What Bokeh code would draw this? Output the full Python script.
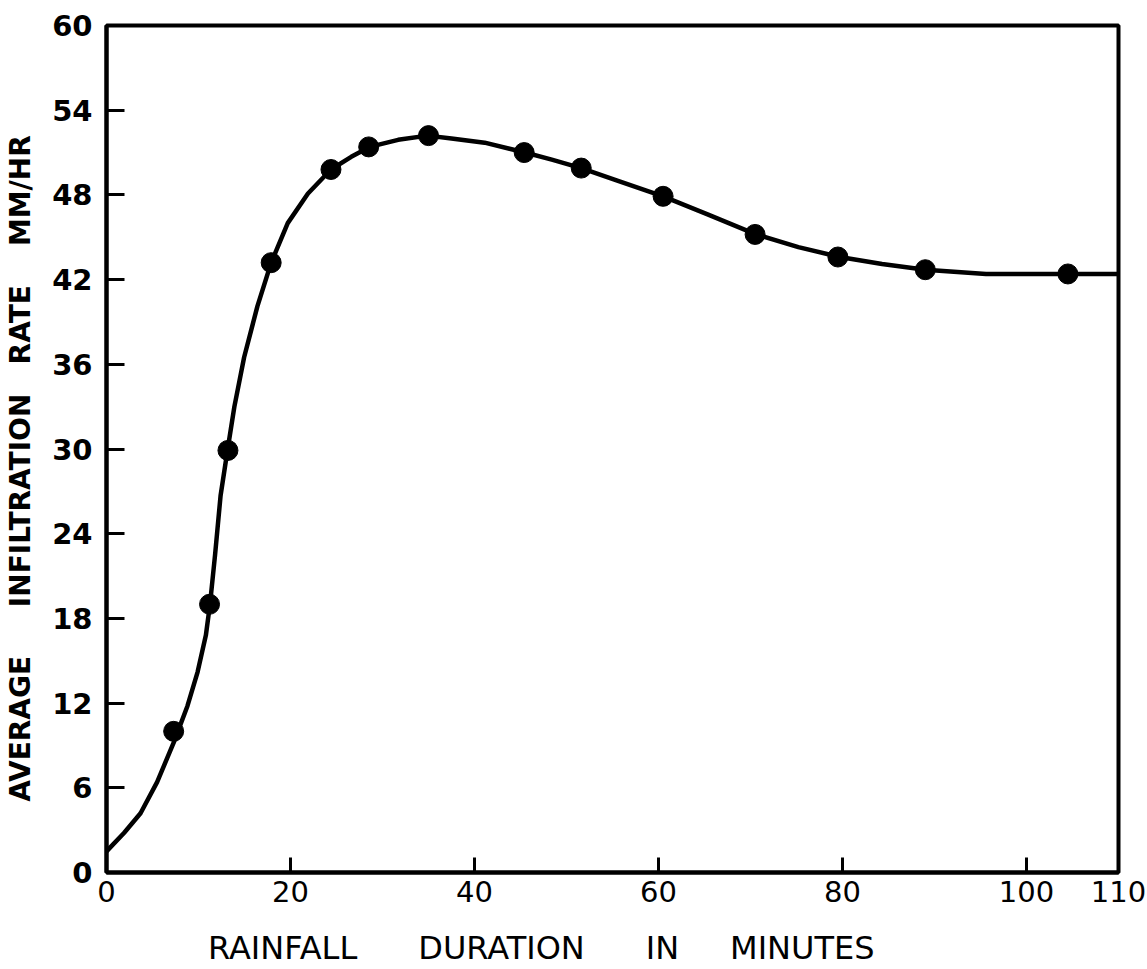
from bokeh.plotting import figure
from bokeh.models import FixedTicker, Range1d
from bokeh.embed import file_html
from bokeh.resources import INLINE

# Observed data points (rainfall duration in minutes, average infiltration rate mm/hr)
duration = [7.3, 11.2, 13.2, 17.9, 24.4, 28.5, 35.0, 45.4, 51.6, 60.5, 70.5, 79.5, 89.0, 104.5]
rate = [10.0, 19.0, 29.9, 43.2, 49.8, 51.4, 52.2, 51.0, 49.9, 47.9, 45.2, 43.6, 42.7, 42.4]

# Hand-drawn fitted curve
curve_duration = [0.0, 1.9, 3.7, 5.5, 7.3, 8.8, 9.9, 10.8, 11.25, 11.8, 12.4, 13.15, 13.9,
                  14.96, 16.4, 17.9, 19.7, 21.9, 24.4, 26.6, 28.6, 31.7, 34.9, 37.5, 41.1,
                  45.5, 48.4, 51.6, 55.6, 60.5, 65.4, 70.6, 75.2, 79.7, 84.3, 89.0, 95.6,
                  104.5, 110.0]
curve_rate = [1.5, 2.8, 4.2, 6.4, 9.2, 11.8, 14.2, 16.8, 19.0, 22.5, 26.7, 29.9, 33.0,
              36.5, 40.1, 43.2, 46.0, 48.1, 49.8, 50.7, 51.4, 51.9, 52.2, 52.0, 51.7,
              51.0, 50.5, 49.9, 49.0, 47.9, 46.6, 45.2, 44.3, 43.6, 43.1, 42.7, 42.4,
              42.4, 42.4]

x_ticks = [0, 20, 40, 60, 80, 100, 110]
y_ticks = [0, 6, 12, 18, 24, 30, 36, 42, 48, 54, 60]

NB = "\u00a0"
x_label = ("RAINFALL" + NB * 6 + "DURATION" + NB * 6 + "IN" + NB * 5 + "MINUTES" + NB * 14)
y_label = ("AVERAGE" + NB * 5 + "INFILTRATION" + NB * 3 + "RATE" + NB * 4 + "MM/HR" + NB * 4)

p = figure(width=1147, height=969, output_backend="svg", toolbar_location=None,
           x_range=Range1d(0, 110), y_range=Range1d(0, 60),
           min_border_left=106, min_border_right=29, min_border_top=25, min_border_bottom=96)

p.background_fill_color = "white"
p.border_fill_color = "white"
p.outline_line_color = "black"
p.outline_line_width = 4
p.xgrid.visible = False
p.ygrid.visible = False

p.xaxis.ticker = FixedTicker(ticks=x_ticks)
p.yaxis.ticker = FixedTicker(ticks=y_ticks)

for ax in (p.xaxis, p.yaxis):
    ax.axis_line_color = "black"
    ax.axis_line_width = 4
    ax.major_tick_line_color = "black"
    ax.major_tick_line_width = 3
    ax.major_tick_out = 0
    ax.minor_tick_line_color = None
    ax.major_label_text_color = "black"
    ax.axis_label_text_color = "black"
    ax.major_label_text_font = "DejaVu Sans"
    ax.axis_label_text_font = "DejaVu Sans"
    ax.axis_label_text_font_style = "normal"

p.xaxis.major_tick_in = 15
p.yaxis.major_tick_in = 18

p.xaxis.major_label_text_font_size = "29px"
p.xaxis.major_label_standoff = 8
p.xaxis.axis_label = x_label
p.xaxis.axis_label_text_font_size = "32px"
p.xaxis.axis_label_standoff = 24

p.yaxis.major_label_text_font_size = "29px"
p.yaxis.major_label_text_font_style = "bold"
p.yaxis.major_label_standoff = 14
p.yaxis.axis_label = y_label
p.yaxis.axis_label_text_font_size = "28px"
p.yaxis.axis_label_text_font_style = "bold"
p.yaxis.axis_label_standoff = 12

p.line(curve_duration, curve_rate, line_color="black", line_width=4.5, line_join="round")
p.scatter(duration, rate, size=20, marker="circle", fill_color="black", line_color="black")

open("out.html", "w").write(file_html(p, INLINE))
